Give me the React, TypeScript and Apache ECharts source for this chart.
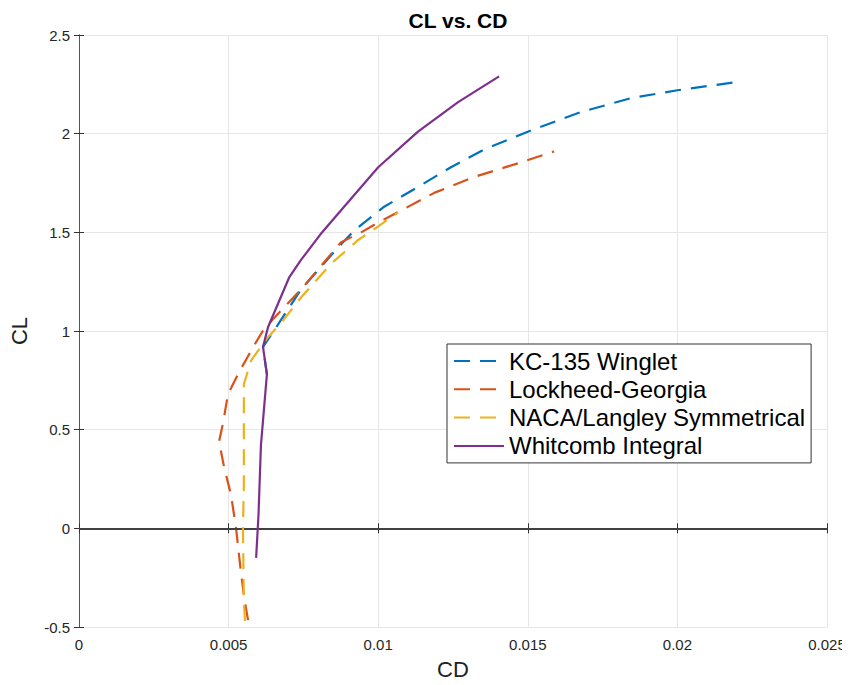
import React, { useEffect, useRef } from "react";
import * as echarts from "echarts";

const seriesNames = ["KC-135 Winglet", "Lockheed-Georgia", "NACA/Langley Symmetrical", "Whitcomb Integral"];
const seriesColors = ["#0072BD", "#D95319", "#EDB120", "#7E2F8E"];

const kcCD = [0.00628, 0.00615, 0.00655, 0.00742, 0.00852, 0.0092, 0.0102, 0.01133, 0.01243, 0.01354, 0.015, 0.01678, 0.01845, 0.02, 0.0219];
const kcCL = [0.78, 0.92, 1.01, 1.21, 1.40, 1.51, 1.63, 1.73, 1.83, 1.92, 2.01, 2.11, 2.18, 2.22, 2.26];

const lgCD = [0.00565, 0.00552, 0.00541, 0.00525, 0.00508, 0.00485, 0.00468, 0.00481, 0.00498, 0.00508, 0.00531, 0.00575, 0.00618, 0.00685, 0.00742, 0.00876, 0.00943, 0.01, 0.01076, 0.01187, 0.0132, 0.01467, 0.01588];
const lgCL = [-0.465, -0.35, -0.22, 0.0, 0.17, 0.31, 0.44, 0.53, 0.68, 0.71, 0.78, 0.90, 1.01, 1.12, 1.21, 1.45, 1.50, 1.55, 1.61, 1.70, 1.78, 1.85, 1.91];

const nlCD = [0.00555, 0.00551, 0.00548, 0.00551, 0.00551, 0.00551, 0.00575, 0.00632, 0.00675, 0.00742, 0.00842, 0.00932, 0.01, 0.01066];
const nlCL = [-0.47, -0.37, 0.0, 0.22, 0.53, 0.73, 0.85, 0.97, 1.04, 1.17, 1.34, 1.46, 1.53, 1.60];

const wcCD = [0.00592, 0.006, 0.00608, 0.00628, 0.00615, 0.00632, 0.00702, 0.00742, 0.00807, 0.00886, 0.01, 0.01133, 0.01267, 0.01404];
const wcCL = [-0.15, 0.07, 0.42, 0.78, 0.92, 1.02, 1.27, 1.36, 1.49, 1.63, 1.83, 2.01, 2.16, 2.29];

const xTicks = { min: 0, max: 0.025, interval: 0.005 };
const yTicks = { min: -0.5, max: 2.5, interval: 0.5 };

const zip = (xs: number[], ys: number[]) => xs.map((x, i) => [x, ys[i]]);

const FONT = "'Liberation Sans', Arial, Helvetica, sans-serif";

export default function App() {
  const ref = useRef<HTMLDivElement>(null);
  useEffect(() => {
    if (!ref.current) return;
    const chart = echarts.init(ref.current, undefined, { renderer: "svg" });
    const dataSets = [zip(kcCD, kcCL), zip(lgCD, lgCL), zip(nlCD, nlCL), zip(wcCD, wcCL)];
    const axisLine = { show: true, lineStyle: { color: "#555555", width: 1 } };
    const tick = { show: true, inside: true, length: 5, lineStyle: { color: "#333333" } };
    const option: any = {
      animation: false,
      backgroundColor: "#ffffff",
      title: {
        text: "CL vs. CD",
        left: 453,
        textAlign: "center",
        top: 5,
        textStyle: { fontFamily: FONT, fontSize: 21, fontWeight: "bold", color: "#000" },
      },
      grid: { left: 78, right: 23, top: 35, bottom: 58, containLabel: false },
      legend: {
        orient: "vertical",
        left: 447,
        top: 344,
        backgroundColor: "#ffffff",
        borderColor: "#333333",
        borderWidth: 1,
        borderRadius: 0,
        padding: [5, 6, 5, 6],
        itemWidth: 50,
        itemHeight: 14,
        itemGap: 4.3,
        itemStyle: { opacity: 0 },
        textStyle: { fontFamily: FONT, fontSize: 24, lineHeight: 24, color: "#000" },
        data: seriesNames,
      },
      xAxis: [
        {
          type: "value",
          ...xTicks,
          position: "bottom",
          name: "CD",
          nameLocation: "middle",
          nameGap: 31,
          nameTextStyle: { fontFamily: FONT, fontSize: 22, color: "#222" },
          axisLine,
          axisTick: tick,
          axisLabel: { fontFamily: FONT, fontSize: 15, color: "#262626", margin: 10 },
          splitLine: { show: true, lineStyle: { color: "#e6e6e6", width: 1 } },
        },
        {
          type: "value",
          ...xTicks,
          position: "top",
          axisLine,
          axisTick: tick,
          axisLabel: { show: false },
          splitLine: { show: false },
        },
      ],
      yAxis: [
        {
          type: "value",
          ...yTicks,
          position: "left",
          name: "CL",
          nameLocation: "middle",
          nameGap: 49,
          nameTextStyle: { fontFamily: FONT, fontSize: 22, color: "#222" },
          axisLine,
          axisTick: tick,
          axisLabel: { fontFamily: FONT, fontSize: 15, color: "#262626", margin: 9 },
          splitLine: { show: true, lineStyle: { color: "#e6e6e6", width: 1 } },
        },
        {
          type: "value",
          ...yTicks,
          position: "right",
          axisLine,
          axisTick: tick,
          axisLabel: { show: false },
          splitLine: { show: false },
        },
      ],
      series: seriesNames.map((name, i) => ({
        name,
        type: "line",
        xAxisIndex: 0,
        yAxisIndex: 0,
        data: dataSets[i],
        showSymbol: false,
        symbol: "none",
        smooth: false,
        color: seriesColors[i],
        lineStyle: {
          color: seriesColors[i],
          width: 2.2,
          type: i === 3 ? "solid" : [16, 10],
        },
        z: 3 + i,
        markLine:
          i === 0
            ? {
                silent: true,
                symbol: "none",
                label: { show: false },
                lineStyle: { color: "#404040", width: 2, type: "solid" },
                data: [{ yAxis: 0 }],
              }
            : undefined,
      })),
    };
    chart.setOption(option);
    return () => chart.dispose();
  }, []);
  return <div ref={ref} style={{ width: 850, height: 685, margin: -8 }} />;
}
